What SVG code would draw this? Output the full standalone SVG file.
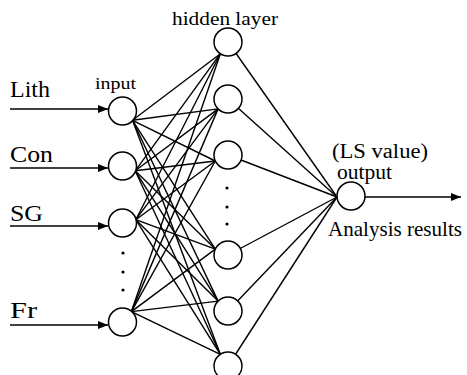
<svg xmlns="http://www.w3.org/2000/svg" width="467" height="375" viewBox="0 0 467 375">
<style>
.n{fill:#fff;stroke:#000;stroke-width:1.5}
.c{stroke:#000;stroke-width:1.4;fill:none}
.a{stroke:#000;stroke-width:1.5;fill:none}
.t{font-family:"Liberation Serif","Times New Roman",serif;fill:#000}
.d{fill:#000}
</style>
<defs>
<marker id="ah" viewBox="0 0 10 8" refX="10" refY="4" markerWidth="10" markerHeight="8" markerUnits="userSpaceOnUse" orient="auto">
<path d="M0,0 L10,4 L0,8 Z" fill="#000"/>
</marker>
</defs>
<rect width="467" height="375" fill="#fff"/>
<g id="connectors">
<g class="c">
<line x1="132.5" y1="120.3" x2="220.4" y2="53.7"/>
<line x1="132.5" y1="120.3" x2="218.1" y2="108.9"/>
<line x1="132.5" y1="120.3" x2="215.3" y2="161"/>
<line x1="132.5" y1="120.3" x2="215.3" y2="249.1"/>
<line x1="132.5" y1="120.3" x2="218.1" y2="301.1"/>
<line x1="132.5" y1="120.3" x2="220.3" y2="354.3"/>
<line x1="135.2" y1="170.8" x2="220.4" y2="53.7"/>
<line x1="135.2" y1="170.8" x2="218.1" y2="108.9"/>
<line x1="135.2" y1="170.8" x2="215.3" y2="161"/>
<line x1="135.2" y1="170.8" x2="215.3" y2="249.1"/>
<line x1="135.2" y1="170.8" x2="218.1" y2="301.1"/>
<line x1="135.2" y1="170.8" x2="220.3" y2="354.3"/>
<line x1="135.8" y1="219.7" x2="220.4" y2="53.7"/>
<line x1="135.8" y1="219.7" x2="218.1" y2="108.9"/>
<line x1="135.8" y1="219.7" x2="215.3" y2="161"/>
<line x1="135.8" y1="219.7" x2="215.3" y2="249.1"/>
<line x1="135.8" y1="219.7" x2="218.1" y2="301.1"/>
<line x1="135.8" y1="219.7" x2="220.3" y2="354.3"/>
<line x1="131.4" y1="311.6" x2="220.4" y2="53.7"/>
<line x1="131.4" y1="311.6" x2="218.1" y2="108.9"/>
<line x1="131.4" y1="311.6" x2="215.3" y2="161"/>
<line x1="131.4" y1="311.6" x2="215.3" y2="249.1"/>
<line x1="131.4" y1="311.6" x2="218.1" y2="301.1"/>
<line x1="131.4" y1="311.6" x2="220.3" y2="354.3"/>
<line x1="228" y1="42" x2="337" y2="197"/>
<line x1="228" y1="99" x2="337" y2="197"/>
<line x1="228" y1="155" x2="337" y2="197"/>
<line x1="228" y1="255" x2="337" y2="197"/>
<line x1="228" y1="311" x2="337" y2="197"/>
<line x1="228" y1="366" x2="337" y2="197"/>
</g>
<g class="a">
<line x1="10" y1="109" x2="108" y2="109" marker-end="url(#ah)"/>
<line x1="10" y1="168" x2="108" y2="168" marker-end="url(#ah)"/>
<line x1="10" y1="226" x2="108" y2="226" marker-end="url(#ah)"/>
<line x1="10" y1="325" x2="108" y2="325" marker-end="url(#ah)"/>
<line x1="365" y1="197" x2="461" y2="197" marker-end="url(#ah)"/>
</g>
</g>
<g id="input-layer">
<g id="node-lith"><circle class="n" cx="122.5" cy="111" r="14"/></g>
<g id="node-con"><circle class="n" cx="122.5" cy="166" r="14"/></g>
<g id="node-sg"><circle class="n" cx="122.5" cy="223" r="14"/></g>
<g id="node-fr"><circle class="n" cx="122.5" cy="322" r="14"/></g>
<g id="input-dots"><circle class="d" cx="123" cy="253" r="1.6"/><circle class="d" cx="123" cy="272" r="1.6"/><circle class="d" cx="123" cy="290" r="1.6"/></g>
</g>
<g id="hidden-layer">
<g id="node-h1"><circle class="n" cx="228" cy="42" r="14"/></g>
<g id="node-h2"><circle class="n" cx="228" cy="99" r="14"/></g>
<g id="node-h3"><circle class="n" cx="228" cy="155" r="14"/></g>
<g id="node-h4"><circle class="n" cx="228" cy="255" r="14"/></g>
<g id="node-h5"><circle class="n" cx="228" cy="311" r="14"/></g>
<g id="node-h6"><circle class="n" cx="228" cy="366" r="14"/></g>
<g id="hidden-dots"><circle class="d" cx="227" cy="188" r="1.6"/><circle class="d" cx="227" cy="207" r="1.6"/><circle class="d" cx="227" cy="224" r="1.6"/></g>
</g>
<g id="node-output"><circle class="n" cx="351" cy="196" r="14"/></g>
<g id="labels">
<text class="t" x="10" y="97" font-size="24" textLength="40" lengthAdjust="spacingAndGlyphs">Lith</text>
<text class="t" x="10" y="162" font-size="24" textLength="43" lengthAdjust="spacingAndGlyphs">Con</text>
<text class="t" x="10" y="221" font-size="24" textLength="33" lengthAdjust="spacingAndGlyphs">SG</text>
<text class="t" x="10" y="318" font-size="24" textLength="27" lengthAdjust="spacingAndGlyphs">Fr</text>
<text class="t" x="95" y="89" font-size="17" textLength="41" lengthAdjust="spacingAndGlyphs">input</text>
<text class="t" x="172" y="25" font-size="19" textLength="106" lengthAdjust="spacingAndGlyphs">hidden layer</text>
<text class="t" x="332" y="158" font-size="20" textLength="96" lengthAdjust="spacingAndGlyphs">(LS value)</text>
<text class="t" x="337" y="179" font-size="20" textLength="55" lengthAdjust="spacingAndGlyphs">output</text>
<text class="t" x="328" y="236" font-size="21" textLength="134" lengthAdjust="spacingAndGlyphs">Analysis results</text>
</g>
</svg>
